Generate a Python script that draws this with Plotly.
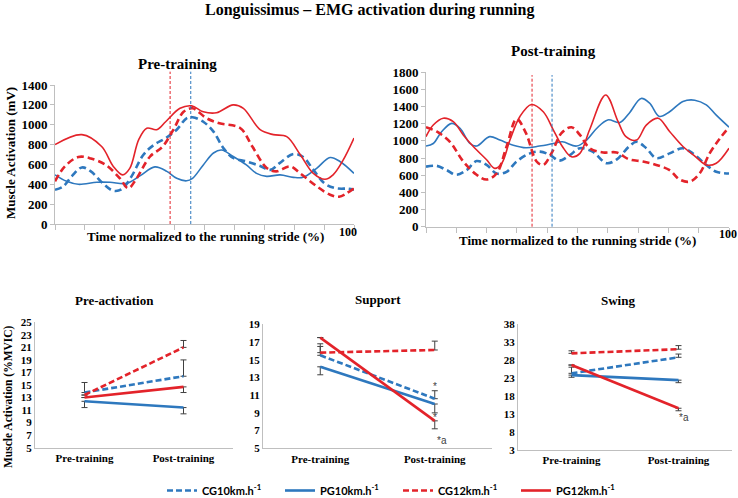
import plotly.graph_objects as go

W, H = 738, 498
BLUE = "#2E78BE"
RED = "#E3232A"
SERIF = "Liberation Serif"

# ---- data: activation curves over the stride (% of stride, mV) ----
pre_cg10_x = [0, 2.8, 5.6, 9, 12, 16, 19.5, 22.3, 25.6, 29.5, 33, 37, 40.7, 44, 46, 49.6, 53, 56.3, 59.6, 64, 68.6, 72, 75, 79.7, 83, 86.4, 90.3, 94, 98, 100]
pre_cg10_y = [345, 380, 480, 570, 530, 410, 335, 350, 480, 695, 795, 865, 950, 1065, 1075, 1030, 930, 765, 665, 630, 585, 545, 610, 705, 675, 545, 405, 360, 355, 345]
pre_pg10_x = [0, 3.9, 7.8, 14, 18.4, 24, 28.4, 33.4, 37.4, 40.7, 44, 46, 49.6, 53, 55.7, 59.6, 64, 67.4, 70.8, 75.3, 79.7, 83, 87.5, 92, 95.3, 100]
pre_pg10_y = [495, 430, 400, 420, 420, 410, 485, 575, 530, 460, 435, 460, 595, 715, 745, 680, 595, 510, 480, 495, 470, 470, 560, 670, 630, 510]
pre_cg12_x = [0, 3.3, 7.8, 12, 17, 21.7, 24.5, 27, 31.8, 36, 39.6, 43, 46, 50.7, 55, 62, 66, 70.8, 74, 78.6, 82, 87.5, 92, 95, 100]
pre_cg12_y = [430, 580, 675, 660, 595, 460, 360, 445, 680, 780, 950, 1130, 1165, 1065, 1015, 965, 780, 565, 530, 580, 510, 380, 295, 275, 360]
pre_pg12_x = [0, 9, 15.6, 19.5, 22.6, 25, 28, 30.7, 34, 37, 41.8, 45.7, 49.6, 54, 59.6, 63, 68.6, 73, 77.5, 82, 86.4, 90.3, 93, 96.4, 100]
pre_pg12_y = [800, 900, 780, 580, 495, 560, 850, 965, 950, 1030, 1165, 1190, 1130, 1120, 1200, 1165, 950, 900, 880, 700, 510, 450, 495, 645, 865]

post_cg10_x = [0, 3.5, 6.8, 10, 13.4, 16.7, 20, 23.3, 26.6, 29.9, 34.3, 37.6, 41, 44, 47.5, 50.8, 55, 59.6, 63, 67, 69.5, 72.7, 76, 80.4, 84.8, 88, 92.5, 95.8, 100]
post_cg10_y = [700, 710, 660, 605, 660, 765, 720, 620, 640, 760, 855, 875, 835, 770, 835, 915, 875, 740, 785, 935, 990, 915, 800, 855, 915, 855, 720, 640, 620]
post_pg10_x = [0, 2.4, 5.2, 8.5, 11.3, 14.5, 16.7, 21, 24.4, 28.8, 33, 37.4, 42, 45, 49.7, 53, 56.3, 60, 64, 67, 71, 73.8, 77, 80.4, 84.8, 88.7, 92.5, 95.8, 100]
post_pg10_y = [940, 970, 1110, 1205, 1145, 970, 940, 1050, 1010, 950, 920, 940, 970, 990, 940, 1010, 1145, 1245, 1215, 1320, 1495, 1440, 1285, 1340, 1460, 1475, 1420, 1300, 1160]
post_cg12_x = [0, 3.5, 7.9, 12.3, 16.7, 20, 23.3, 26.6, 29.9, 33, 36.5, 38.7, 41.4, 44.7, 48, 50.8, 54, 58.5, 62.9, 67, 71.6, 76, 80.4, 83.7, 87, 90.3, 93.6, 97, 100]
post_cg12_y = [1160, 1110, 990, 760, 605, 550, 620, 935, 1255, 1090, 760, 720, 855, 1090, 1160, 1070, 915, 865, 865, 785, 760, 720, 660, 550, 525, 620, 855, 1030, 1160]
post_pg12_x = [0, 2.4, 5.7, 9, 12.3, 15.6, 20, 22.7, 25, 27.7, 31, 34.8, 38.7, 42, 45, 48, 50.8, 54, 59.3, 63.4, 66, 69.5, 72.7, 76.6, 80.4, 84.8, 89, 92.5, 95.8, 100]
post_pg12_y = [1050, 1185, 1265, 1225, 1070, 935, 780, 680, 740, 1010, 1285, 1425, 1340, 1130, 935, 815, 855, 1130, 1535, 1225, 1050, 1010, 1185, 1265, 1110, 935, 815, 720, 740, 915]

# stance/swing markers (% of stride)
pre_red_mark, pre_blue_mark = 38.5, 45.4
post_red_mark, post_blue_mark = 35.0, 41.6

# ---- data: phase means (%MVIC) ----
phases = ["Pre-training", "Post-training"]
groups = ["CG10km.h<sup>-1</sup>", "PG10km.h<sup>-1</sup>", "CG12km.h<sup>-1</sup>", "PG12km.h<sup>-1</sup>"]

preact_cg10 = [13.8, 16.4]
preact_pg10 = [12.4, 11.4]
preact_cg12 = [13.4, 21.0]
preact_pg12 = [13.0, 14.7]
preact_up = [[1.6, 2.6], [0, 0], [0, 1.1], [0, 0]]
preact_dn = [[0, 0], [1.0, 1.0], [0, 0], [0, 0.9]]

support_cg10 = [15.5, 10.6]
support_pg10 = [14.2, 10.0]
support_cg12 = [15.8, 16.1]
support_pg12 = [17.5, 8.1]
support_up = [[1.0, 0.9], [0, 0], [1.0, 1.0], [0, 0]]
support_dn = [[0, 0], [0.9, 1.0], [0, 0], [0, 0.9]]

swing_cg10 = [24.3, 28.75]
swing_pg10 = [23.8, 22.4]
swing_cg12 = [29.85, 31.0]
swing_pg12 = [26.6, 14.6]
swing_up = [[1.7, 0.9], [0, 0], [0.7, 1.0], [0, 0]]
swing_dn = [[0, 0], [0.6, 0.7], [0, 0], [0, 0.7]]

colors = [BLUE, BLUE, RED, RED]
dashed = [True, False, True, False]


def px_x(a, b):
    return [a / W, b / W]


def px_y(top, bottom):
    return [1 - bottom / H, 1 - top / H]


fig = go.Figure()

top_sets = [
    ("x", "y", [(pre_cg10_x, pre_cg10_y), (pre_pg10_x, pre_pg10_y), (pre_cg12_x, pre_cg12_y), (pre_pg12_x, pre_pg12_y)]),
    ("x2", "y2", [(post_cg10_x, post_cg10_y), (post_pg10_x, post_pg10_y), (post_cg12_x, post_cg12_y), (post_pg12_x, post_pg12_y)]),
]
for xa, ya, curves in top_sets:
    for i, (cx, cy) in enumerate(curves):
        fig.add_trace(go.Scatter(
            x=cx, y=cy, xaxis=xa, yaxis=ya, mode="lines", showlegend=False,
            line=dict(color=colors[i], width=2.6 if dashed[i] else 1.6,
                      dash="7px,4px" if dashed[i] else "solid", shape="spline", smoothing=1.0),
        ))

bottom_sets = [
    ("x3", "y3", [preact_cg10, preact_pg10, preact_cg12, preact_pg12], preact_up, preact_dn, True),
    ("x4", "y4", [support_cg10, support_pg10, support_cg12, support_pg12], support_up, support_dn, False),
    ("x5", "y5", [swing_cg10, swing_pg10, swing_cg12, swing_pg12], swing_up, swing_dn, False),
]
for xa, ya, vals, up, dn, leg in bottom_sets:
    for i, v in enumerate(vals):
        fig.add_trace(go.Scatter(
            x=phases, y=v, xaxis=xa, yaxis=ya, mode="lines", name=groups[i], showlegend=leg,
            line=dict(color=colors[i], width=2.6, dash="6px,3px" if dashed[i] else "solid"),
            error_y=dict(type="data", symmetric=False, array=up[i], arrayminus=dn[i],
                         color="#404040", thickness=1, width=3),
        ))

# vertical phase markers in the top panels
for xr, yr, xv, col, top in [("x", "y", pre_red_mark, RED, 1.096), ("x", "y", pre_blue_mark, BLUE, 1.096),
                             ("x2", "y2", post_red_mark, RED, 0.982), ("x2", "y2", post_blue_mark, BLUE, 0.982)]:
    fig.add_shape(type="line", xref=xr, yref=yr + " domain", x0=xv, x1=xv, y0=0, y1=top,
                  line=dict(color=col, width=1, dash="3px,2px"))

axis_grey = "#BFBFBF"
top_tick = dict(family=SERIF, size=13, color="black", weight="bold")
bot_tick = dict(family=SERIF, size=11, color="black", weight="bold")

top_x = dict(range=[0, 100], showline=True, linecolor=axis_grey, linewidth=1, ticks="outside",
             ticklen=5, tickcolor=axis_grey, tickvals=list(range(0, 101, 10)),
             showticklabels=False, showgrid=False, zeroline=False)
top_y = dict(showline=True, linecolor=axis_grey, linewidth=1, ticks="outside", ticklen=4,
             tickcolor=axis_grey, tickfont=top_tick, showgrid=False, zeroline=False, dtick=200)
bot_x = dict(type="category", range=[-0.5, 1.5], showline=True, linecolor=axis_grey, linewidth=1,
             ticks="", tickfont=bot_tick, showgrid=False, zeroline=False)
bot_y = dict(showline=True, linecolor=axis_grey, linewidth=1, ticks="", tickfont=bot_tick,
             showgrid=False, zeroline=False)

fig.update_layout(
    width=W, height=H, autosize=False,
    margin=dict(l=0, r=0, t=0, b=0, pad=0, autoexpand=False),
    paper_bgcolor="white", plot_bgcolor="white",
    xaxis=dict(top_x, domain=px_x(55, 354), anchor="y"),
    yaxis=dict(top_y, domain=px_y(85, 224), range=[0, 1400], anchor="x"),
    xaxis2=dict(top_x, domain=px_x(426, 729), anchor="y2"),
    yaxis2=dict(top_y, domain=px_y(72.3, 226.7), range=[0, 1800], anchor="x2"),
    xaxis3=dict(bot_x, domain=px_x(35, 233), anchor="y3"),
    yaxis3=dict(bot_y, domain=px_y(322.3, 447.7), range=[5, 25], tick0=5, dtick=2, anchor="x3"),
    xaxis4=dict(bot_x, domain=px_x(263, 492), anchor="y4"),
    yaxis4=dict(bot_y, domain=px_y(324.3, 448.3), range=[5, 19], tick0=5, dtick=2, anchor="x4"),
    xaxis5=dict(bot_x, domain=px_x(518, 732), anchor="y5"),
    yaxis5=dict(bot_y, domain=px_y(324, 450), range=[3, 38], tick0=3, dtick=5, anchor="x5"),
    legend=dict(orientation="h", x=162 / W, xanchor="left", y=1 - 476 / H, yanchor="top",
                entrywidth=73, entrywidthmode="pixels",
                font=dict(family="Lato", size=11, color="black", weight="bold"),
                bgcolor="rgba(0,0,0,0)"),
)

def note(text, x, y, size, angle=0, family=SERIF, weight="bold", color="black"):
    fig.add_annotation(text=text, x=x / W, y=1 - y / H, xref="paper", yref="paper",
                       showarrow=False, textangle=angle, xanchor="center", yanchor="middle",
                       font=dict(family=family, size=size, color=color, weight=weight))

note("Longuissimus – EMG activation during running", 369, 10, 16)
note("Pre-training", 177, 64, 15)
note("Post-training", 553, 51, 15)
note("Time normalized to the running stride (%)", 205, 237, 13)
note("Time normalized to the running stride (%)", 577, 240, 13)
note("100", 348, 232, 12)
note("100", 728, 234, 12)
note("Muscle Activation (mV)", 10, 153, 13, angle=-90)
note("Pre-activation", 115, 300, 13)
note("Support", 378, 299, 13)
note("Swing", 618, 300, 13)
note("Muscle Activation (%MVIC)", 8, 397, 11.5, angle=-90)
note("*", 435, 386, 10, family="Liberation Sans", weight="normal", color="#404040")
note("*", 435, 417, 10, family="Liberation Sans", weight="normal", color="#404040")
note("*a", 442, 440, 10, family="Liberation Sans", weight="normal", color="#404040")
note("*a", 684, 417, 10, family="Liberation Sans", weight="normal", color="#404040")

fig.write_html("out.html", config={"displayModeBar": False},
               post_script="document.body.style.margin='0';")
